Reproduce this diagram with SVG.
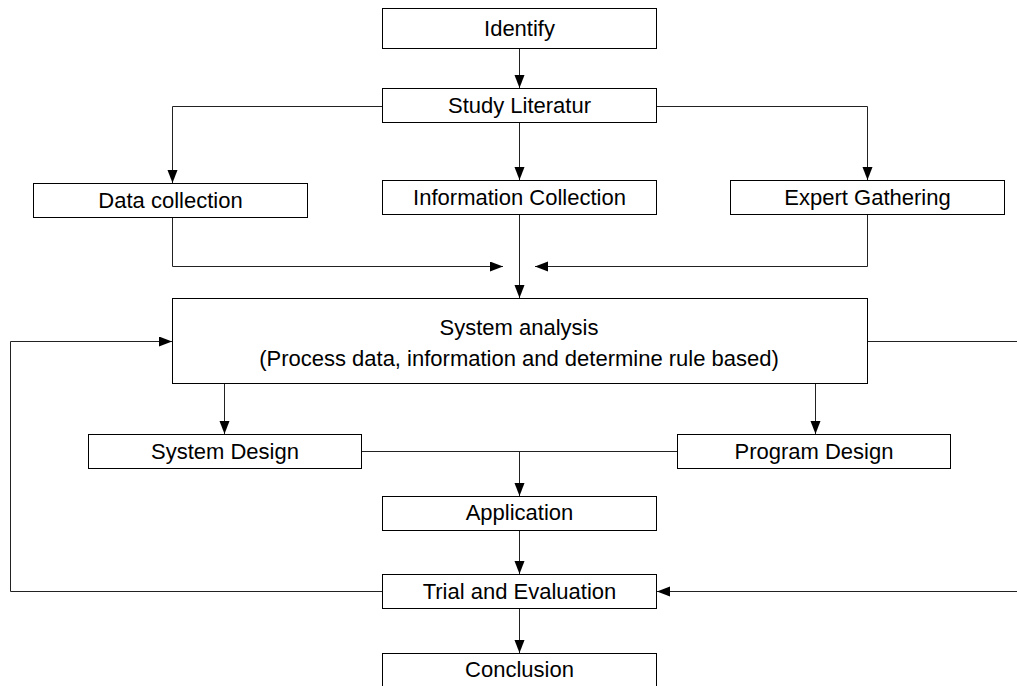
<svg xmlns="http://www.w3.org/2000/svg" width="1017" height="686" viewBox="0 0 1017 686">
<style>
.box{fill:#fff;stroke:#000;stroke-width:1}
.lbl{font-family:"Liberation Sans",Arial,sans-serif;font-size:22px;fill:#000;text-anchor:middle}
.c{fill:none;stroke:#222;stroke-width:1}
</style>
<defs>
<marker id="ah" markerUnits="userSpaceOnUse" markerWidth="14" markerHeight="12" refX="13" refY="5" orient="auto">
<path d="M0,0 L13,5 L0,10 z" fill="#000"/>
</marker>
</defs>
<rect width="1017" height="686" fill="#fff"/>
<g id="connectors">
<path class="c" d="M519.5,48 V88" marker-end="url(#ah)"/>
<path class="c" d="M382,106.5 H172.5 V183" marker-end="url(#ah)"/>
<path class="c" d="M519.5,123 V180" marker-end="url(#ah)"/>
<path class="c" d="M657,106.5 H867.5 V180" marker-end="url(#ah)"/>
<path class="c" d="M172.5,217 V266.5 H503" marker-end="url(#ah)"/>
<path class="c" d="M867.5,214 V266.5 H535" marker-end="url(#ah)"/>
<path class="c" d="M519.5,214 V298" marker-end="url(#ah)"/>
<path class="c" d="M224.5,384 V434" marker-end="url(#ah)"/>
<path class="c" d="M815.5,384 V434" marker-end="url(#ah)"/>
<path class="c" d="M361,451.5 H677"/>
<path class="c" d="M519.5,451.5 V496" marker-end="url(#ah)"/>
<path class="c" d="M519.5,530 V574" marker-end="url(#ah)"/>
<path class="c" d="M519.5,609 V653" marker-end="url(#ah)"/>
<path class="c" d="M382,591.5 H10.5 V341.5 H172" marker-end="url(#ah)"/>
<path class="c" d="M867,341.5 H1030 V591.5 H657" marker-end="url(#ah)"/>
</g>
<g id="identify"><rect class="box" x="382.5" y="8.5" width="274" height="40"/><text class="lbl" x="519.5" y="35.5">Identify</text></g>
<g id="study"><rect class="box" x="382.5" y="88.5" width="274" height="34"/><text class="lbl" x="519.5" y="112.5">Study Literatur</text></g>
<g id="data"><rect class="box" x="33.5" y="183.5" width="274" height="34"/><text class="lbl" x="170.5" y="207.5">Data collection</text></g>
<g id="info"><rect class="box" x="382.5" y="180.5" width="274" height="34"/><text class="lbl" x="519.5" y="204.5">Information Collection</text></g>
<g id="expert"><rect class="box" x="730.5" y="180.5" width="274" height="34"/><text class="lbl" x="867.5" y="204.5">Expert Gathering</text></g>
<g id="analysis"><rect class="box" x="172.5" y="298.5" width="695" height="85"/><text class="lbl" x="519" y="335">System analysis</text><text class="lbl" x="519" y="366">(Process data, information and determine rule based)</text></g>
<g id="sysdesign"><rect class="box" x="88.5" y="434.5" width="273" height="34"/><text class="lbl" x="225" y="458.5">System Design</text></g>
<g id="progdesign"><rect class="box" x="677.5" y="434.5" width="273" height="34"/><text class="lbl" x="814" y="458.5">Program Design</text></g>
<g id="application"><rect class="box" x="382.5" y="496.5" width="274" height="34"/><text class="lbl" x="519.5" y="520">Application</text></g>
<g id="trial"><rect class="box" x="382.5" y="574.5" width="274" height="34"/><text class="lbl" x="519.5" y="598.5">Trial and Evaluation</text></g>
<g id="conclusion"><rect class="box" x="382.5" y="653.5" width="274" height="40"/><text class="lbl" x="519.5" y="677">Conclusion</text></g>
</svg>
